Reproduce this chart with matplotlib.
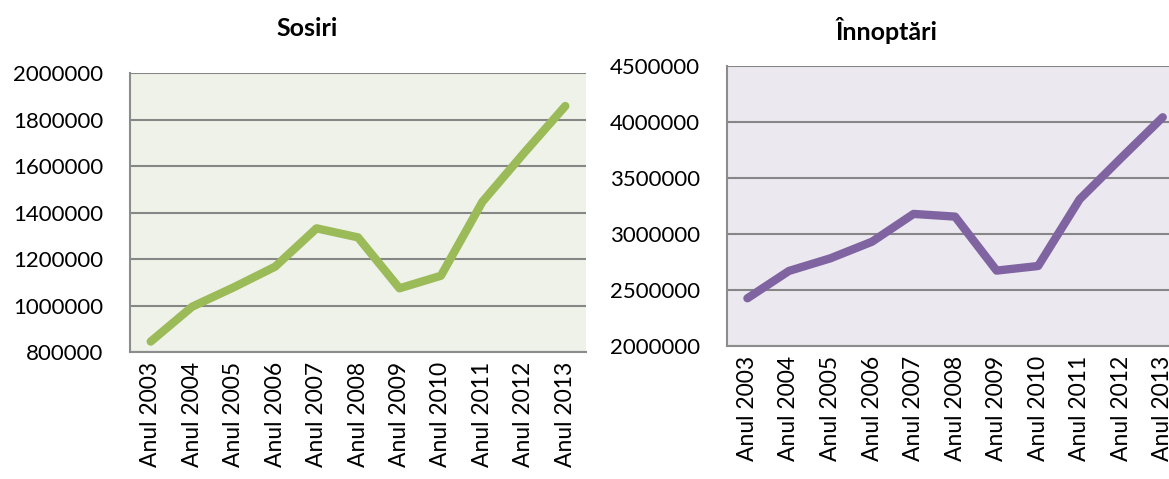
import numpy as np
import matplotlib.pyplot as plt

plt.rcParams['font.family'] = ['Lato', 'DejaVu Sans']

ani = ['Anul 2003', 'Anul 2004', 'Anul 2005', 'Anul 2006', 'Anul 2007', 'Anul 2008',
       'Anul 2009', 'Anul 2010', 'Anul 2011', 'Anul 2012', 'Anul 2013']
sosiri = [845000, 995000, 1078000, 1167000, 1332000, 1293000,
          1074000, 1128000, 1446000, 1655000, 1858000]
innoptari = [2426000, 2670000, 2783000, 2931000, 3179000, 3155000,
             2673000, 2714000, 3310000, 3679000, 4042000]

fig = plt.figure(figsize=(11.69, 4.79), dpi=100)

def rysuj(ax, y, kolor, tlo, ymin, ymax, krok):
    x = np.arange(len(ani))
    ax.set_facecolor(tlo)
    ax.plot(x, y, color=kolor, lw=6, solid_capstyle='round', solid_joinstyle='round', zorder=3)
    ax.set_xlim(-0.5, len(ani) - 0.5)
    ax.set_ylim(ymin, ymax)
    ax.set_yticks(np.arange(ymin, ymax + 1, krok))
    ax.set_yticklabels([str(int(v)) for v in np.arange(ymin, ymax + 1, krok)])
    ax.set_xticks(x)
    ax.set_xticklabels(ani, rotation=90)
    ax.yaxis.grid(True, color='#868686', lw=1.5)
    ax.set_axisbelow(True)
    ax.tick_params(length=0, labelsize=16, colors='black')
    ax.tick_params(axis='y', pad=19)
    ax.tick_params(axis='x', pad=7, labelsize=16.5)
    for s in ['top', 'right']:
        ax.spines[s].set_visible(False)
    for s in ['left', 'bottom']:
        ax.spines[s].set_color('#8c8c8c')
        ax.spines[s].set_linewidth(1.5)

ax1 = fig.add_axes([0.1112, 0.2651, 0.3901, 0.5825])
rysuj(ax1, sosiri, '#9BBB59', '#EFF2E9', 800000, 2000000, 200000)
ax2 = fig.add_axes([0.6216, 0.2777, 0.3908, 0.5846])
rysuj(ax2, innoptari, '#8064A2', '#EBE8EF', 2000000, 4500000, 500000)

fig.text(307 / 1169, 1 - 28 / 479, 'Sosiri', ha='center', va='center', fontsize=18, fontweight='bold')
fig.text(887 / 1169, 1 - 30 / 479, 'Înnoptări', ha='center', va='center', fontsize=18, fontweight='bold')

fig.savefig('out.png', dpi=100)
